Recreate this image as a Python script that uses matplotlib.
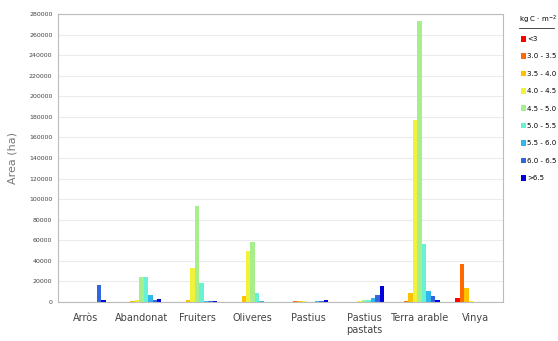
import numpy as np
import matplotlib
matplotlib.use('Agg')
from matplotlib import pyplot as plt

# categories (land use) and carbon classes
categories = ['Arròs', 'Abandonat', 'Fruiters', 'Oliveres', 'Pastius',
              'Pastius\npastats', 'Terra arable', 'Vinya']
classes = ['<3', '3.0 - 3.5', '3.5 - 4.0', '4.0 - 4.5', '4.5 - 5.0',
           '5.0 - 5.5', '5.5 - 6.0', '6.0 - 6.5', '>6.5']
colors = ['#ff0000', '#ff6a00', '#ffc000', '#f2f23a', '#a6ef8c',
          '#66f2d6', '#33b5ee', '#3366dd', '#0000dd']

# area (ha) per class, one list per land use
arros = [0, 0, 0, 0, 0, 0, 0, 17000, 2000]
abandonat = [0, 0, 1200, 1500, 24000, 24000, 7000, 2000, 3000]
fruiters = [0, 300, 2000, 33000, 93000, 18000, 600, 500, 500]
oliveres = [0, 0, 6000, 50000, 58000, 9000, 500, 0, 0]
pastius = [300, 500, 600, 600, 400, 400, 600, 800, 1500]
pastius_pastats = [0, 0, 0, 500, 2000, 2000, 3500, 7000, 16000]
terra_arable = [0, 500, 9000, 177000, 273000, 56000, 11000, 6000, 1500]
vinya = [4000, 37000, 14000, 500, 0, 0, 0, 0, 0]

data = np.array([arros, abandonat, fruiters, oliveres, pastius,
                 pastius_pastats, terra_arable, vinya])

fig = plt.figure(figsize=(5.58, 3.41), dpi=100)
ax = fig.add_axes([58 / 558, 1 - 302 / 341, 445 / 558, 288 / 341])

x = np.arange(len(categories))
w = 0.08
for i, cl in enumerate(classes):
    ax.bar(x + (i - 4) * w, data[:, i], width=w, color=colors[i], label=cl)

ax.set_xlim(-0.5, 7.5)
ax.set_ylim(0, 280000)
ax.set_yticks(range(0, 280001, 20000))
ax.tick_params(axis='y', labelsize=4.5, length=0, colors='#444444', pad=4)
ax.tick_params(axis='x', labelsize=7, length=0, colors='#444444', pad=8)
ax.set_xticks(x)
ax.set_xticklabels(categories)
ax.grid(axis='y', color='#ececec', linewidth=0.8)
ax.set_axisbelow(True)
for s in ax.spines.values():
    s.set_color('#bbbbbb')
    s.set_linewidth(0.8)

ax.set_ylabel('Area (ha)', fontsize=8, color='#777777', labelpad=8)

leg = fig.legend(loc='upper left', bbox_to_anchor=(518 / 558, 1 - 33 / 341),
                 frameon=False, handlelength=0.7, handleheight=0.9,
                 handletextpad=0.25, labelspacing=1.6, borderaxespad=0,
                 prop={'size': 5})
fig.text(519 / 558, 1 - 26 / 341, 'kg C · m$^{-2}$', fontsize=5,
         va='bottom', ha='left')
fig.add_artist(plt.Line2D([519 / 558, 554 / 558], [1 - 27.5 / 341, 1 - 27.5 / 341],
                          color='black', linewidth=0.5))

fig.savefig('out.png', dpi=100)
